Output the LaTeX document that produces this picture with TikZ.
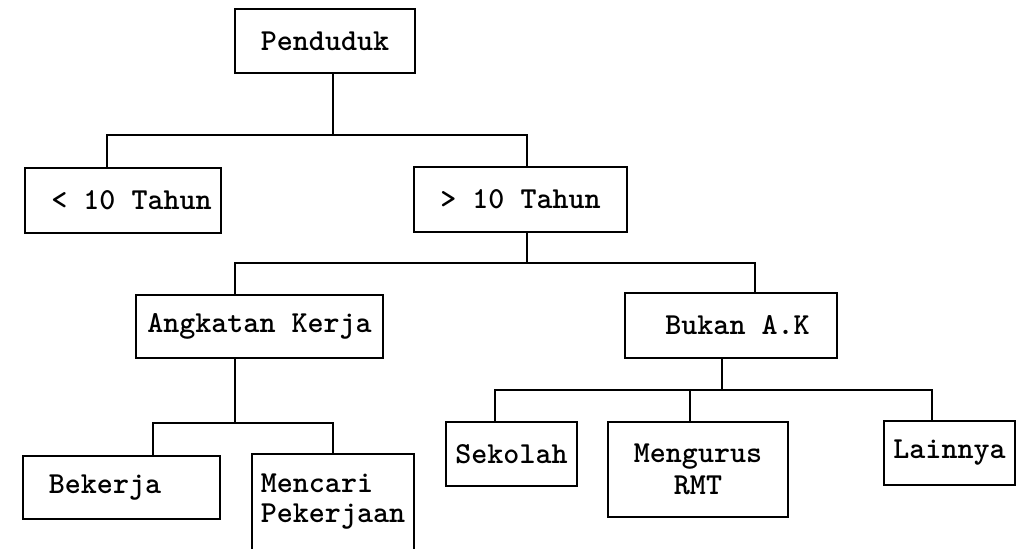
\documentclass[tikz,border=0pt]{standalone}
\usepackage{fontspec}
\begin{document}
\begin{tikzpicture}[
        x=0.025cm, y=-0.025cm,
        box/.style={draw, line width=1.2pt, inner sep=2pt, align=center,
            font=\ttfamily\bfseries\fontsize{21.7}{22.8}\selectfont},
        link/.style={line width=1.2pt}
    ]
        \useasboundingbox (0,0) rectangle (1018,548);
        % Population breakdown
        \node[box, minimum width=4.5cm, minimum height=1.6cm] (pend) at (325,41) {Penduduk};
        \node[box, minimum width=4.9cm, minimum height=1.625cm] (lt10) at (123,200.5) {\hspace*{0.425cm}< 10 Tahun};
        \node[box, minimum width=5.325cm, minimum height=1.625cm] (gt10) at (520.5,199.5) {> 10 Tahun};
        \node[box, minimum width=6.175cm, minimum height=1.575cm] (ak) at (259.5,326.5) {Angkatan Kerja};
        \node[box, minimum width=5.3cm, minimum height=1.625cm] (bak) at (731,325.5) {\hspace*{0.325cm}Bukan A.K};
        \node[box, minimum width=4.925cm, minimum height=1.575cm] (bek) at (121.5,487.5) {Bekerja\hspace*{0.825cm}};
        \node[box, minimum width=4.05cm, minimum height=2.4cm, align=left] (men) at (333,502) {Mencari\\[-1.5pt]Pekerjaan};
        \node[box, minimum width=3.275cm, minimum height=1.6cm] (sek) at (511.5,454) {Sekolah};
        \node[box, minimum width=4.5cm, minimum height=2.375cm] (meng) at (698,469.5) {Mengurus\\RMT};
        \node[box, minimum width=3.275cm, minimum height=1.6cm] (lain) at (949.5,453) {Lainnya};

        % Split points of the tree
        \coordinate (s1) at (333,135);
        \coordinate (s2) at (527,263);
        \coordinate (s3) at (235,423);
        \coordinate (s4) at (722,390);

        % Connect levels with elbow lines
        \draw[link] (pend.south -| s1) -- (s1);
        \draw[link] (s1) -| ([xshift=-0.4cm]lt10.north);
        \draw[link] (s1) -| ([xshift=0.1625cm]gt10.north);
        \draw[link] (gt10.south -| s2) -- (s2);
        \draw[link] (s2) -| ([xshift=-0.6125cm]ak.north);
        \draw[link] (s2) -| ([xshift=0.6cm]bak.north);
        \draw[link] (ak.south -| s3) -- (s3);
        \draw[link] (s3) -| ([xshift=0.7875cm]bek.north);
        \draw[link] (s3) -| (men.north);
        \draw[link] (bak.south -| s4) -- (s4);
        \draw[link] (s4) -| ([xshift=-0.4125cm]sek.north);
        \draw[link] (s4) -| ([xshift=-0.2cm]meng.north);
        \draw[link] (s4) -| ([xshift=-0.4375cm]lain.north);
    \end{tikzpicture}
\end{document}
